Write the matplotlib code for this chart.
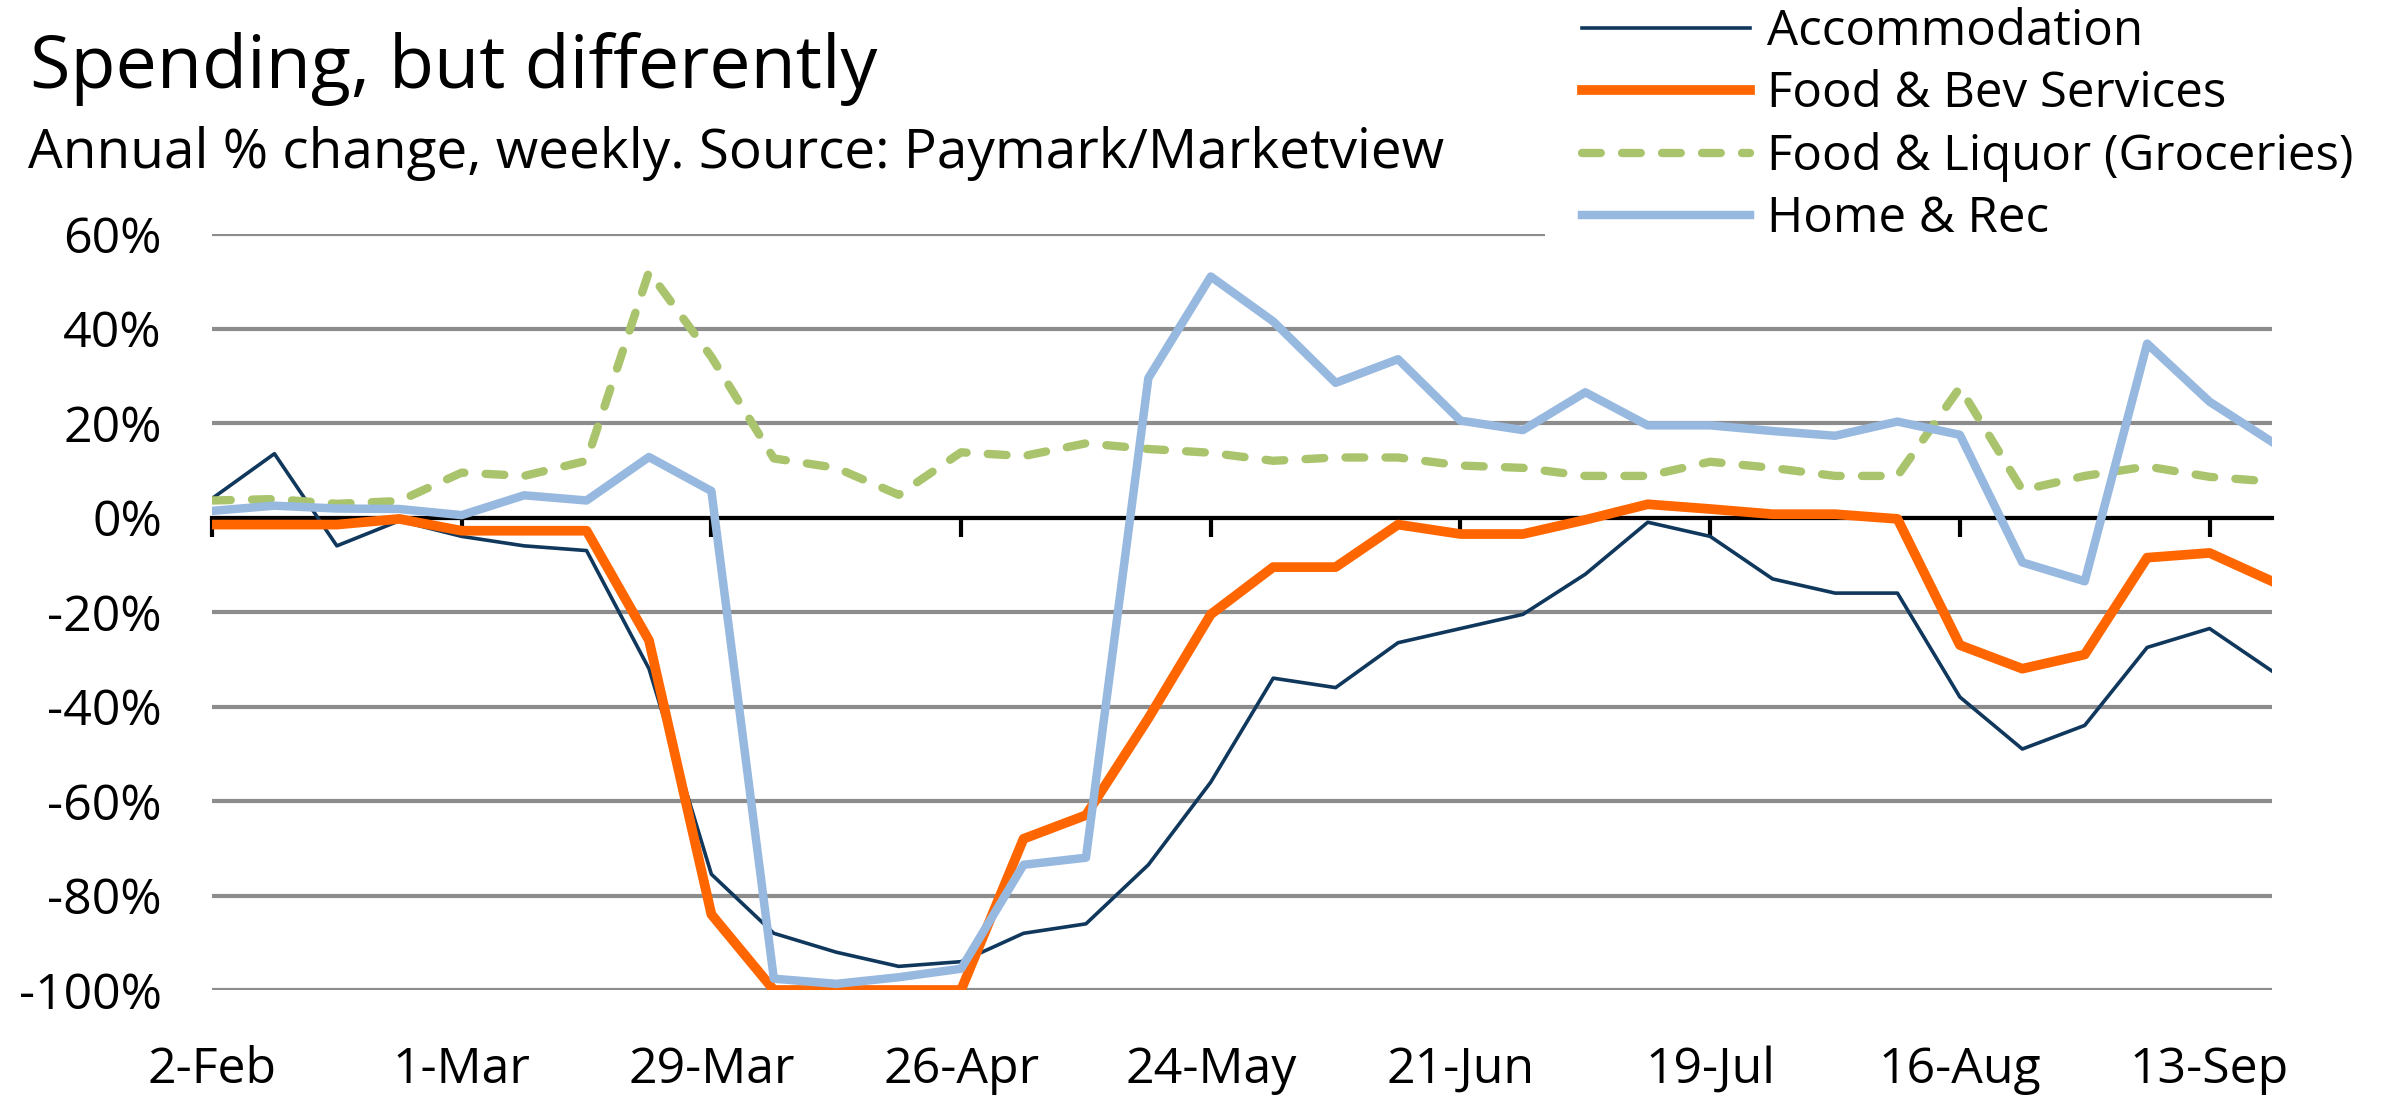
import numpy as np
import pandas as pd
import matplotlib
matplotlib.use('Agg')
import matplotlib.pyplot as plt

plt.rcParams['font.family'] = ['Open Sans', 'DejaVu Sans']

# weekly data, week starting 2-Feb-2020
weeks = pd.date_range('2020-02-02', periods=34, freq='7D')

accommodation = [4, 13.5, -6, -0.7, -4, -6, -7, -32, -75.5, -88, -92, -95, -94, -88,
                 -86, -73.5, -56, -34, -36, -26.5, -23.5, -20.5, -12, -1, -4, -13,
                 -16, -16, -38, -49, -44, -27.5, -23.5, -32.5]
food_bev = [-1.5, -1.5, -1.5, -0.3, -2.8, -2.8, -2.8, -26, -84, -100, -100, -100, -100,
            -68, -63, -42.5, -20.5, -10.5, -10.5, -1.5, -3.5, -3.5, -0.5, 2.8, 1.8,
            0.7, 0.7, -0.3, -27, -32, -29, -8.5, -7.5, -13.5]
groceries = [3.6, 3.9, 2.9, 3.5, 9.5, 8.8, 12, 52, 34, 12.5, 10.5, 4.8, 13.8, 13, 15.7,
             14.5, 13.7, 12, 12.7, 12.7, 11, 10.5, 8.8, 8.8, 11.8, 10.5, 8.8, 8.8,
             27.5, 5.8, 8.8, 10.8, 8.6, 7.6]
home_rec = [1.4, 2.5, 1.9, 1.8, 0.5, 4.7, 3.6, 12.8, 5.6, -97.6, -98.7, -97.3, -95.5,
            -73.5, -72, 29.5, 51, 41.5, 28.5, 33.5, 20.5, 18.5, 26.5, 19.5, 19.5, 18.3,
            17.3, 20.3, 17.5, -9.5, -13.5, 36.8, 24.5, 16]

series = [
    ('Accommodation', accommodation, '#10375c', 2.6, '-'),
    ('Food & Bev Services', food_bev, '#ff6600', 7.0, '-'),
    ('Food & Liquor (Groceries)', groceries, '#a9c46c', 6.0, '--'),
    ('Home & Rec', home_rec, '#97b8df', 6.1, '-'),
]

W, H = 2391, 1097
fig = plt.figure(figsize=(W / 100, H / 100), dpi=100)
ax = fig.add_axes([212 / W, 1 - 990 / H, (2272 - 212) / W, (990 - 234) / H])

x = np.arange(len(weeks))
for name, vals, col, lw, ls in series:
    line, = ax.plot(x, vals, color=col, lw=lw, ls=ls, label=name,
                    solid_joinstyle='round', dash_capstyle='round')
    if ls == '--':
        line.set_dashes((2.25, 2.55))

ax.set_xlim(0, len(weeks) - 1)
ax.set_ylim(-100, 60)

yt = np.arange(-100, 61, 20)
ax.set_yticks(yt, labels=[f'{v}%' for v in yt])
ax.yaxis.grid(True, color='#8c8c8c', lw=3)
ax.set_axisbelow(True)
ax.tick_params(axis='y', length=0, pad=36, labelsize=36)

for s in ['top', 'left', 'right']:
    ax.spines[s].set_visible(False)
ax.spines['bottom'].set_position(('data', 0))
ax.spines['bottom'].set_linewidth(3)
ax.spines['bottom'].set_zorder(1.8)

ax.set_xticks(x[::4])
ax.tick_params(axis='x', direction='out', length=13.7, width=3,
               color='black', labelbottom=False)

sec = ax.secondary_xaxis('bottom')
sec.set_xticks(x[::4], labels=[f'{d.day}-{d:%b}' for d in weeks[::4]])
sec.tick_params(length=0, pad=40, labelsize=36)
sec.spines['bottom'].set_visible(False)

fig.text(30 / W, 1 - 88 / H, 'Spending, but differently', fontsize=53,
         ha='left', va='baseline')
fig.text(28 / W, 1 - 168 / H, 'Annual % change, weekly. Source: Paymark/Marketview',
         fontsize=39.5, ha='left', va='baseline')

ax.legend(loc='upper left', bbox_to_anchor=(1545 / W, 1.027),
          bbox_transform=fig.transFigure, frameon=True, fancybox=False,
          edgecolor='none', facecolor='white', framealpha=1, fontsize=35.5,
          handlelength=3.4, handletextpad=0.36, labelspacing=0.26,
          borderpad=0.75, borderaxespad=0)

fig.savefig('out.png', dpi=100)
